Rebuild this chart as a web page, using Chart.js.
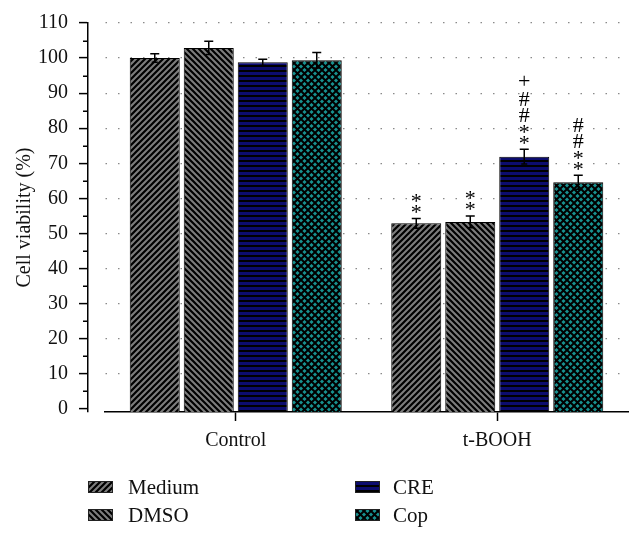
<!DOCTYPE html>
<html>
<head>
<meta charset="utf-8">
<script src="https://cdn.jsdelivr.net/npm/chart.js@4"></script>
<style>
html,body{margin:0;padding:0;background:#fff;}
#wrap{width:643px;height:540px;}
</style>
</head>
<body>
<div id="wrap"><canvas id="c" width="643" height="540"></canvas></div>
<script>
const categories = ['Control', 't-BOOH'];
const seriesNames = ['Medium', 'DMSO', 'CRE', 'Cop'];
const mediumValues = [100.0, 52.9];
const mediumErrors = [1.2, 1.4];
const dmsoValues = [102.9, 53.3];
const dmsoErrors = [1.9, 1.7];
const creValues = [98.8, 71.9];
const creErrors = [0.9, 2.1];
const copValues = [99.4, 64.6];
const copErrors = [2.2, 2.0];
const mediumMarks = ['', '**'];
const dmsoMarks = ['', '**'];
const creMarks = ['', '**##+'];
const copMarks = ['', '**##'];
const yTickValues = [0, 10, 20, 30, 40, 50, 60, 70, 80, 90, 100, 110];
const yMinorTicks = [5, 15, 25, 35, 45, 55, 65, 75, 85, 95, 105];
const yTitle = 'Cell viability (%)';

const FONT = "'Liberation Serif', 'Times New Roman', serif";

function makePattern(kind) {
  const c = document.createElement('canvas');
  const x = c.getContext('2d');
  if (kind === 'fwd' || kind === 'back') {
    const s = 6;
    c.width = s; c.height = s;
    x.fillStyle = '#7d7d7d'; x.fillRect(0, 0, s, s);
    x.strokeStyle = '#000'; x.lineWidth = 2.2;
    x.beginPath();
    if (kind === 'fwd') {
      x.moveTo(-1, s + 1); x.lineTo(s + 1, -1);
      x.moveTo(-1, 1); x.lineTo(1, -1);
      x.moveTo(s - 1, s + 1); x.lineTo(s + 1, s - 1);
    } else {
      x.moveTo(-1, -1); x.lineTo(s + 1, s + 1);
      x.moveTo(s - 1, -1); x.lineTo(s + 1, 1);
      x.moveTo(-1, s - 1); x.lineTo(1, s + 1);
    }
    x.stroke();
  } else if (kind === 'hline') {
    c.width = 5; c.height = 5;
    x.fillStyle = '#0c0c6e'; x.fillRect(0, 0, 5, 5);
    x.fillStyle = '#000'; x.fillRect(0, 0, 5, 2);
  } else if (kind === 'cross') {
    const s = 7;
    c.width = s; c.height = s;
    x.fillStyle = '#189190'; x.fillRect(0, 0, s, s);
    x.strokeStyle = '#000'; x.lineWidth = 2;
    x.beginPath();
    x.moveTo(-1, -1); x.lineTo(s + 1, s + 1);
    x.moveTo(-1, s + 1); x.lineTo(s + 1, -1);
    x.stroke();
  }
  const ctx = document.getElementById('c').getContext('2d');
  return ctx.createPattern(c, 'repeat');
}

const patterns = [makePattern('fwd'), makePattern('back'), makePattern('hline'), makePattern('cross')];
const valueSets = [mediumValues, dmsoValues, creValues, copValues];
const errorSets = [mediumErrors, dmsoErrors, creErrors, copErrors];
const markSets = [mediumMarks, dmsoMarks, creMarks, copMarks];

const datasets = seriesNames.map((name, i) => ({
  label: name,
  data: valueSets[i],
  errors: errorSets[i],
  marks: markSets[i],
  backgroundColor: patterns[i],
  borderColor: '#000',
  borderWidth: 1,
  base: -0.9,
  yAxisID: 'y',
  xAxisID: 'x',
  categoryPercentage: 0.826,
  barPercentage: 0.926
}));

const errorBarPlugin = {
  id: 'errorBars',
  afterDatasetsDraw(chart) {
    const ctx = chart.ctx;
    const y = chart.scales.y;
    ctx.save();
    ctx.strokeStyle = '#000';
    ctx.lineWidth = 1.5;
    chart.data.datasets.forEach((ds, di) => {
      const meta = chart.getDatasetMeta(di);
      meta.data.forEach((el, i) => {
        const v = ds.data[i], e = ds.errors[i];
        const yt = y.getPixelForValue(v + e);
        const yb = y.getPixelForValue(v - e);
        const cx = el.x, hw = 4.5;
        ctx.beginPath();
        ctx.moveTo(cx, yt); ctx.lineTo(cx, yb);
        ctx.moveTo(cx - hw, yt); ctx.lineTo(cx + hw, yt);
        ctx.moveTo(cx - 3, yb); ctx.lineTo(cx + 3, yb);
        ctx.stroke();
        const marks = ds.marks[i];
        if (marks) {
          ctx.fillStyle = '#000';
          ctx.textAlign = 'center';
          ctx.textBaseline = 'alphabetic';
          const fs = 22;
          ctx.font = fs + 'px ' + FONT;
          const centers = [-10, -21, -35, -51, -67];
          const lift = {'*': 0.47, '#': 0.34, '+': 0.25};
          for (let k = 0; k < marks.length; k++) {
            const ch = marks[k];
            const cy = yt + centers[k];
            ctx.fillText(ch, cx, cy + lift[ch] * fs);
          }
        }
      });
    });
    ctx.restore();
  }
};

const minorTickPlugin = {
  id: 'minorTicks',
  afterDraw(chart) {
    const y = chart.scales.y;
    const ctx = chart.ctx;
    ctx.save();
    ctx.strokeStyle = '#000';
    ctx.lineWidth = 1.5;
    ctx.beginPath();
    yMinorTicks.forEach(v => {
      const py = Math.round(y.getPixelForValue(v)) + 0.25;
      ctx.moveTo(y.right - 5, py); ctx.lineTo(y.right, py);
    });
    ctx.stroke();
    ctx.restore();
  }
};

const legendPlugin = {
  id: 'customLegend',
  afterDraw(chart) {
    const ctx = chart.ctx;
    const slots = [
      {bx: 88, tx: 128, cy: 487},
      {bx: 88, tx: 128, cy: 515},
      {bx: 355, tx: 393, cy: 487},
      {bx: 355, tx: 393, cy: 515}
    ];
    ctx.save();
    chart.data.datasets.forEach((ds, i) => {
      const s = slots[i];
      ctx.fillStyle = ds.backgroundColor;
      ctx.fillRect(s.bx, s.cy - 6, 25, 12);
      ctx.strokeStyle = '#222';
      ctx.lineWidth = 1;
      ctx.strokeRect(s.bx + 0.5, s.cy - 5.5, 24, 11);
      ctx.fillStyle = '#111';
      ctx.font = '21px ' + FONT;
      ctx.textAlign = 'left';
      ctx.textBaseline = 'middle';
      ctx.fillText(ds.label, s.tx, s.cy + 1);
    });
    ctx.restore();
  }
};

Chart.defaults.font.family = FONT;
Chart.defaults.color = '#111';

new Chart(document.getElementById('c'), {
  type: 'bar',
  data: { labels: categories, datasets },
  options: {
    responsive: false,
    animation: false,
    layout: { padding: { top: 23, right: 15, left: 0, bottom: 0 } },
    plugins: { legend: { display: false }, tooltip: { enabled: false } },
    scales: {
      x: {
        type: 'category',
        offset: true,
        grid: { display: true, drawOnChartArea: false, offset: false, tickLength: 9, tickColor: '#000', tickWidth: 1.5 },
        border: { display: true, color: '#000', width: 1.5 },
        ticks: { font: { size: 20 }, padding: 8, color: '#111' },
        afterFit(s) { s.height = 128; }
      },
      y: {
        type: 'linear',
        position: 'left',
        weight: 1,
        min: -0.9,
        max: 110,
        afterBuildTicks(s) { s.ticks = yTickValues.map(v => ({ value: v })); },
        grid: {
          color: c => (c.tick && c.tick.value === 0) ? 'rgba(0,0,0,0)' : '#8a8a8a',
          lineWidth: 1.2,
          tickLength: 9,
          tickColor: '#000',
          tickWidth: 1.5,
          tickBorderDash: []
        },
        border: { display: true, color: '#000', width: 1.5, dash: [1.5, 11] },
        ticks: { font: { size: 20 }, padding: 11, color: '#111' },
        title: { display: true, text: yTitle, font: { size: 20 }, padding: { top: 13, bottom: 0 }, color: '#111' },
        afterFit(s) { s.width = 88; }
      },
      gap: {
        type: 'linear',
        axis: 'y',
        position: 'left',
        weight: 0,
        display: true,
        grid: { display: false, drawTicks: false },
        border: { display: false },
        ticks: { display: false },
        afterFit(s) { s.width = 17; }
      }
    }
  },
  plugins: [errorBarPlugin, minorTickPlugin, legendPlugin]
});
</script>
</body>
</html>
